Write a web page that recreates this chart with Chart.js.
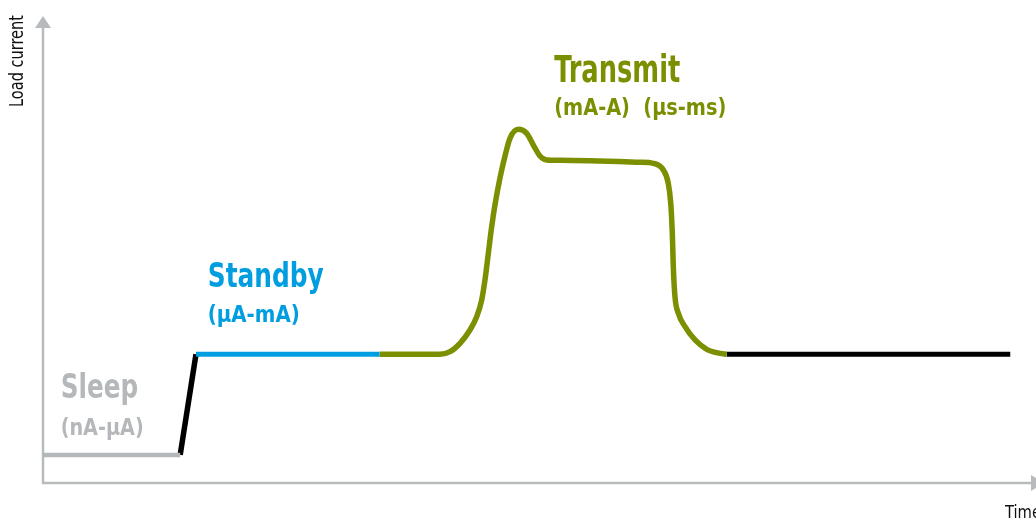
<!DOCTYPE html>
<html>
<head>
<meta charset="utf-8">
<script src="https://cdn.jsdelivr.net/npm/chart.js@4"></script>
<style>
html,body{margin:0;padding:0;background:#fff;}
#wrap{width:1036px;height:522px;position:relative;}
</style>
</head>
<body>
<div id="wrap"><canvas id="c" width="1036" height="522"></canvas></div>
<script>
// Time axis (0-100) and load current axis (0-100), arbitrary units
const sleepX = [0, 13.9];
const sleepY = [6.0, 6.0];
const wakeX = [13.9, 15.5];
const wakeY = [6.0, 27.5];
const standbyX = [15.5, 34.1];
const standbyY = [27.5, 27.5];
const transmitX = [34.1, 40.22, 41.24, 42.25, 43.26, 43.94, 44.45, 44.78, 45.12, 45.46, 45.79, 46.30, 46.81, 47.31, 48.16, 49.01, 49.68, 50.35, 51.03, 52.38, 60.49, 61.83, 62.85, 63.35, 63.60, 63.76, 63.86, 64.03, 64.37, 65.05, 66.06, 67.25, 68.59, 69.27];
const transmitY = [27.5, 27.5, 28.06, 29.85, 32.69, 35.53, 39.10, 43.38, 49.08, 54.76, 59.40, 65.17, 69.87, 73.65, 75.58, 74.72, 72.22, 69.87, 69.02, 68.95, 68.53, 68.31, 66.88, 64.04, 59.76, 53.35, 46.22, 39.81, 36.26, 33.40, 30.56, 28.57, 27.71, 27.5];
const returnX = [69.27, 98.0];
const returnY = [27.5, 27.5];

const axisTitles = ['Load current', 'Time'];
const stateTitles = ['Sleep', 'Standby', 'Transmit'];
const stateRanges = ['(nA-µA)', '(µA-mA)', '(mA-A)  (µs-ms)'];

// label layout (anchor in data units, text widths in px)
const labelLayout = [
  {x: 1.79, y: 18.1, color: '#b5b8ba', size: 34, w: 77.5, subSize: 23, subW: 83, subDy: 36.7},
  {x: 16.69, y: 41.8, color: '#009ee0', size: 33.5, w: 116, subSize: 23, subW: 92, subDy: 34.4},
  {x: 51.8, y: 85.75, color: '#7b8f00', size: 36.5, w: 126, subSize: 23, subW: 172, subDy: 33.3}
];

const pts = (xs, ys) => xs.map((x, i) => ({x: x, y: ys[i]}));
const GREY = '#b8bbbd';
const FONT = '"Liberation Sans Narrow", "DejaVu Sans Condensed", sans-serif';

function fitText(ctx, text, x, y, width) {
  const m = ctx.measureText(text).width;
  ctx.save();
  ctx.translate(x, y);
  ctx.scale(width / m, 1);
  ctx.fillText(text, 0, 0);
  ctx.restore();
}

const decor = {
  id: 'decor',
  beforeDatasetsDraw(chart) {
    const ctx = chart.ctx, a = chart.chartArea;
    ctx.save();
    ctx.strokeStyle = GREY; ctx.fillStyle = GREY; ctx.lineWidth = 2.5;
    ctx.beginPath();
    ctx.moveTo(a.left, a.bottom + 1.2);
    ctx.lineTo(a.left, a.top + 12);
    ctx.moveTo(a.left - 1.2, a.bottom);
    ctx.lineTo(a.right + 1, a.bottom);
    ctx.stroke();
    ctx.beginPath();
    ctx.moveTo(a.left, a.top + 1);
    ctx.lineTo(a.left - 8, a.top + 13);
    ctx.lineTo(a.left + 8, a.top + 13);
    ctx.closePath(); ctx.fill();
    ctx.beginPath();
    ctx.moveTo(a.right + 14, a.bottom);
    ctx.lineTo(a.right + 1, a.bottom - 8);
    ctx.lineTo(a.right + 1, a.bottom + 8);
    ctx.closePath(); ctx.fill();
    ctx.restore();
  },
  afterDraw(chart) {
    const ctx = chart.ctx, a = chart.chartArea;
    const xs = chart.scales.x, ys = chart.scales.y;
    ctx.save();
    ctx.textBaseline = 'alphabetic';
    ctx.textAlign = 'left';
    labelLayout.forEach((l, i) => {
      const px = xs.getPixelForValue(l.x), py = ys.getPixelForValue(l.y);
      ctx.fillStyle = l.color;
      ctx.font = 'bold ' + l.size + 'px ' + FONT;
      fitText(ctx, stateTitles[i], px, py, l.w);
      ctx.font = 'bold ' + l.subSize + 'px ' + FONT;
      fitText(ctx, stateRanges[i], px, py + l.subDy, l.subW);
    });
    ctx.fillStyle = '#111';
    ctx.font = '19px ' + FONT;
    ctx.save();
    ctx.translate(a.left - 20, a.top + 92);
    ctx.rotate(-Math.PI / 2);
    fitText(ctx, axisTitles[0], 0, 0, 92);
    ctx.restore();
    ctx.font = '17px ' + FONT;
    fitText(ctx, axisTitles[1], a.right - 25, a.bottom + 35, 36);
    ctx.restore();
  }
};

const ds = (data, color, width, extra) => Object.assign({
  data: data, borderColor: color, borderWidth: width, pointRadius: 0,
  fill: false, tension: 0, clip: false, borderCapStyle: 'butt', borderJoinStyle: 'round'
}, extra || {});

new Chart(document.getElementById('c'), {
  type: 'line',
  data: {
    datasets: [
      ds(pts(sleepX, sleepY), '#b5b8ba', 4.5),
      ds(pts(standbyX, standbyY), '#009ee0', 5),
      ds(pts(transmitX, transmitY), '#7b8f00', 5.5, {cubicInterpolationMode: 'monotone'}),
      ds(pts(returnX, returnY), '#000000', 5),
      ds(pts(wakeX, wakeY), '#000000', 5.5)
    ]
  },
  options: {
    responsive: false,
    animation: false,
    events: [],
    layout: {padding: {left: 43, right: 6, top: 15, bottom: 39}},
    plugins: {legend: {display: false}, tooltip: {enabled: false}},
    scales: {
      x: {type: 'linear', min: 0, max: 100, display: false},
      y: {type: 'linear', min: 0, max: 100, display: false}
    }
  },
  plugins: [decor]
});
</script>
</body>
</html>
